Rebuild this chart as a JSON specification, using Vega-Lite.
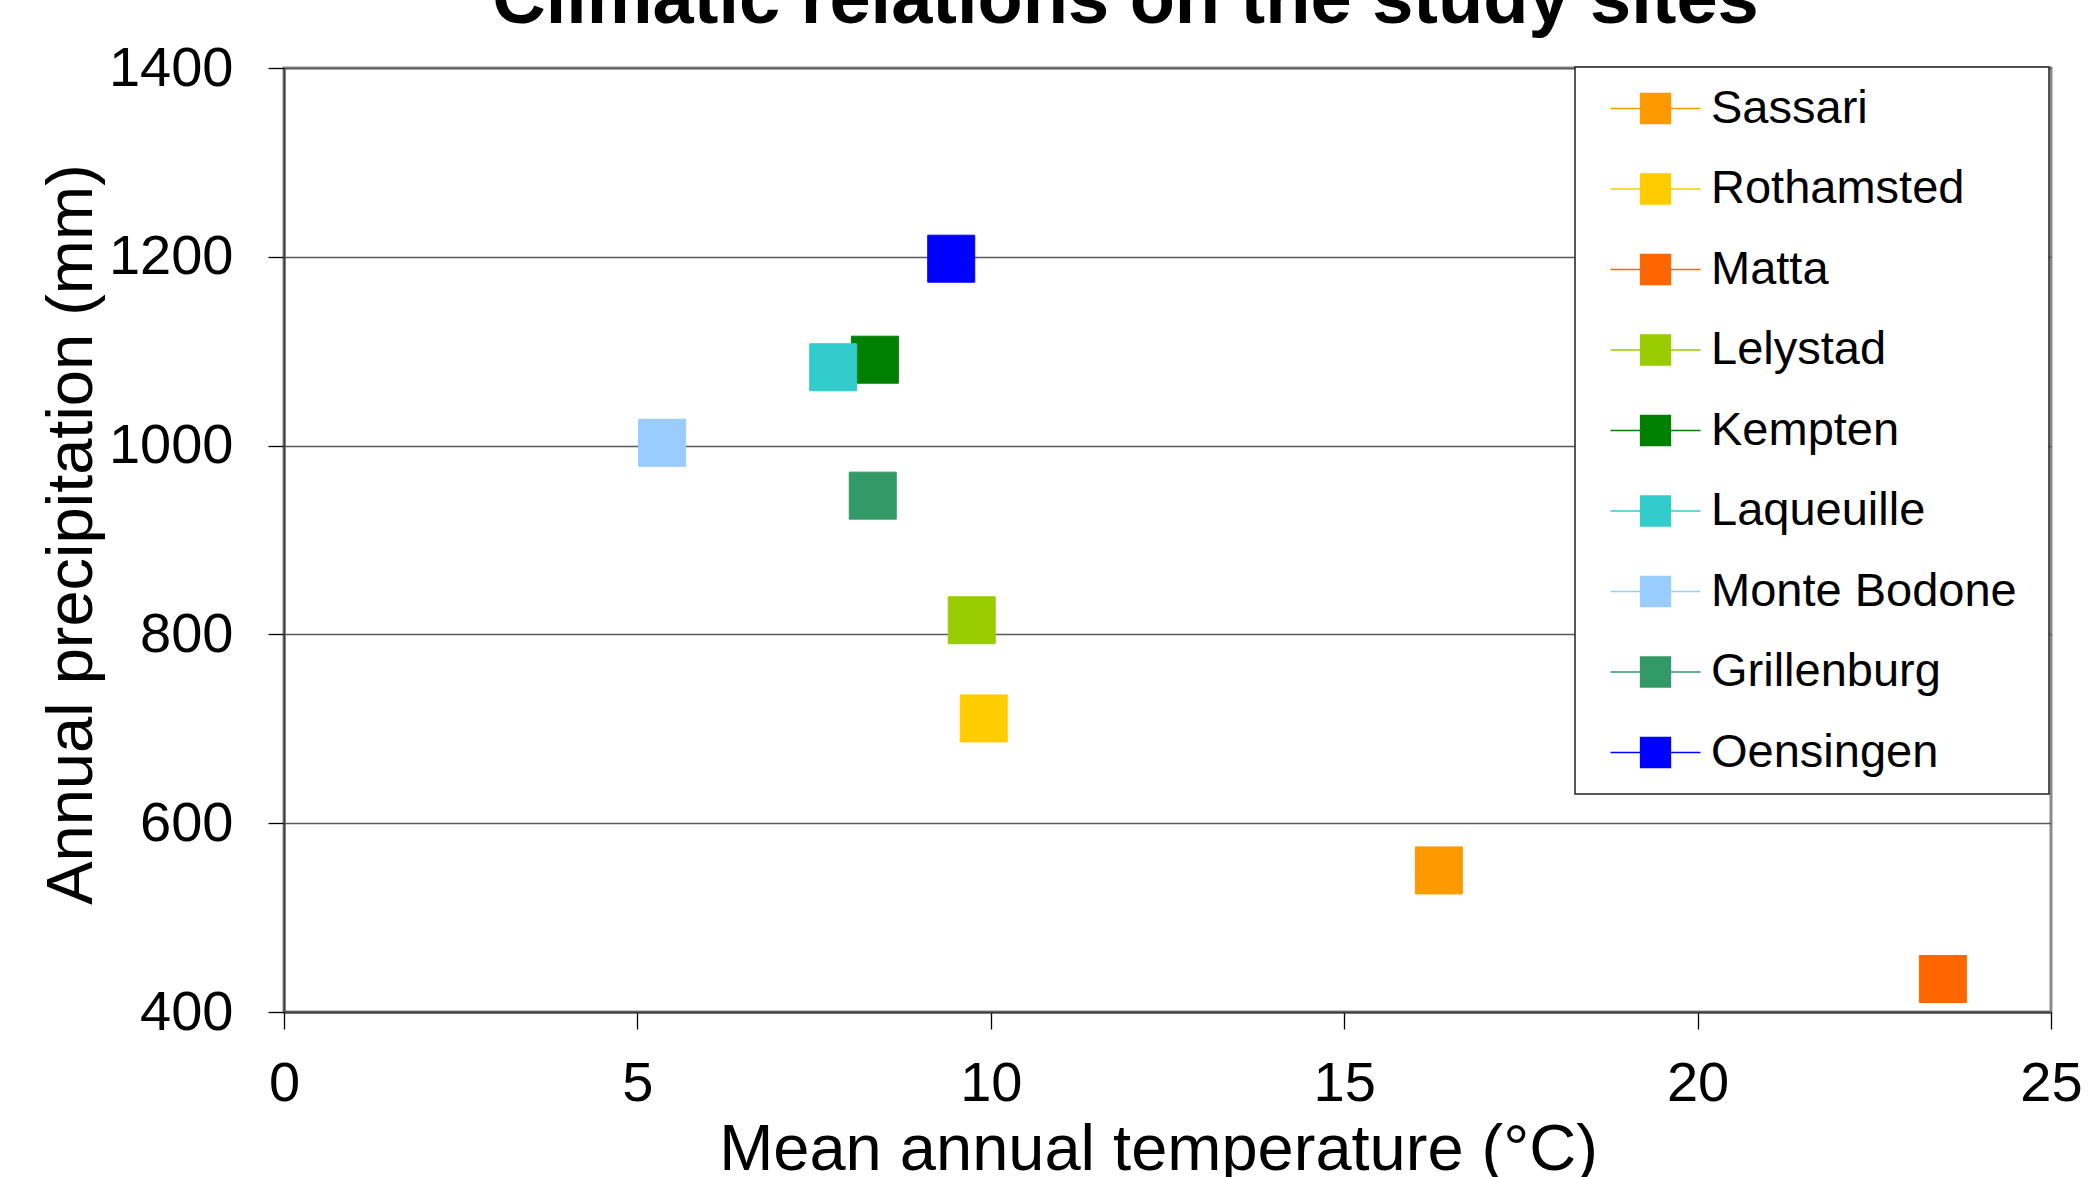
{
  "$schema": "https://vega.github.io/schema/vega-lite/v6.json",
  "width": 1767,
  "height": 944,
  "autosize": {"type": "none"},
  "padding": {"left": 284, "top": 68, "right": 40, "bottom": 165},
  "background": "white",
  "title": {
    "text": "Climatic relations on the study sites",
    "font": "Liberation Sans",
    "fontSize": 74,
    "fontWeight": "bold",
    "color": "#000000",
    "anchor": "middle",
    "offset": 1,
    "dx": -42
  },
  "data": {
    "values": [
      {"site": "Sassari", "temperature": 16.34, "precipitation": 550},
      {"site": "Rothamsted", "temperature": 9.9, "precipitation": 711},
      {"site": "Matta", "temperature": 23.47, "precipitation": 435},
      {"site": "Lelystad", "temperature": 9.73, "precipitation": 815},
      {"site": "Kempten", "temperature": 8.36, "precipitation": 1091},
      {"site": "Laqueuille", "temperature": 7.77, "precipitation": 1083},
      {"site": "Monte Bodone", "temperature": 5.35, "precipitation": 1003},
      {"site": "Grillenburg", "temperature": 8.33, "precipitation": 947},
      {"site": "Oensingen", "temperature": 9.44, "precipitation": 1198}
    ]
  },
  "mark": {"type": "square", "filled": true, "size": 2209, "opacity": 1, "strokeWidth": 1},
  "encoding": {
    "x": {
      "field": "temperature",
      "type": "quantitative",
      "scale": {"domain": [0, 25], "nice": false, "zero": false},
      "axis": {
        "values": [0, 5, 10, 15, 20, 25],
        "title": "Mean annual temperature (°C)",
        "grid": false,
        "tickSize": 17,
        "labelPadding": 27,
        "titlePadding": 7,
        "titleX": 874
      }
    },
    "y": {
      "field": "precipitation",
      "type": "quantitative",
      "scale": {"domain": [400, 1400], "nice": false, "zero": false},
      "axis": {
        "values": [400, 600, 800, 1000, 1200, 1400],
        "format": "d",
        "title": "Annual precipitation (mm)",
        "grid": true,
        "tickSize": 16,
        "labelPadding": 35,
        "titlePadding": 3,
        "titleY": 466
      }
    },
    "fill": {
      "field": "site",
      "type": "nominal",
      "scale": {
        "domain": ["Sassari", "Rothamsted", "Matta", "Lelystad", "Kempten", "Laqueuille", "Monte Bodone", "Grillenburg", "Oensingen"],
        "range": ["#FF9900", "#FFCC00", "#FF6600", "#99CC00", "#008000", "#33CCCC", "#99CCFF", "#339966", "#0000FF"]
      },
      "legend": {
        "title": " ",
        "titleOrient": "right",
        "orient": "none",
        "legendX": 1291,
        "legendY": -1
      }
    },
    "stroke": {
      "field": "site",
      "type": "nominal",
      "scale": {
        "domain": ["Sassari", "Rothamsted", "Matta", "Lelystad", "Kempten", "Laqueuille", "Monte Bodone", "Grillenburg", "Oensingen"],
        "range": ["#FF9900", "#FFCC00", "#FF6600", "#99CC00", "#008000", "#33CCCC", "#99CCFF", "#339966", "#0000FF"]
      },
      "legend": {
        "title": " ",
        "titleOrient": "right",
        "orient": "none",
        "legendX": 1291,
        "legendY": -1
      }
    }
  },
  "config": {
    "view": {"stroke": "#8a8a8a", "strokeWidth": 3},
    "axis": {
      "labelFont": "Liberation Sans",
      "labelFontSize": 56,
      "labelColor": "#000000",
      "titleFont": "Liberation Sans",
      "titleFontSize": 65,
      "titleFontWeight": "normal",
      "titleColor": "#000000",
      "domainColor": "#404040",
      "domainWidth": 2,
      "tickColor": "#000000",
      "tickWidth": 1.3,
      "gridColor": "#5a5a5a",
      "gridWidth": 1.5,
      "labelFlush": false,
      "labelOverlap": false
    },
    "legend": {
      "symbolType": "M-3,0H3M-1,-1H1V1H-1Z",
      "symbolSize": 900,
      "symbolStrokeWidth": 1.3,
      "symbolOpacity": 1,
      "labelFont": "Liberation Sans",
      "labelFontSize": 47,
      "labelColor": "#000000",
      "labelLimit": 500,
      "padding": 18,
      "rowPadding": 32.5,
      "symbolOffset": 39,
      "labelOffset": 32,
      "titleFontSize": 10,
      "titlePadding": 14,
      "strokeColor": "#222222",
      "strokeWidth": 1.5,
      "fillColor": "white"
    }
  }
}
